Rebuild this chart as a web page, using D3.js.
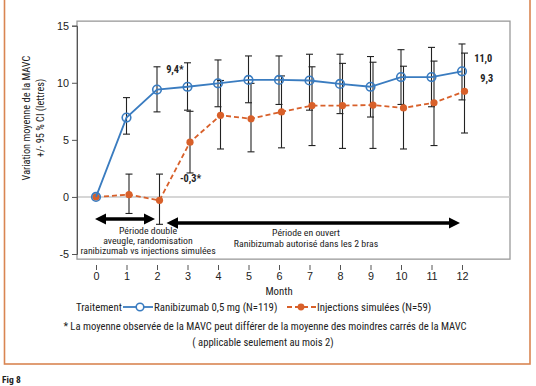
<!DOCTYPE html>
<html><head><meta charset="utf-8">
<script src="https://cdn.jsdelivr.net/npm/d3@7"></script>
<style>
html,body{margin:0;padding:0;background:#fff;}
svg{display:block;font-family:"Liberation Sans Narrow","Roboto Condensed","Liberation Sans",sans-serif;}
</style></head><body>
<svg id="c" width="536" height="386"></svg>
<script>
const months = [0,1,2,3,4,5,6,7,8,9,10,11,12];
const ranibizumab = [0,6.95,9.4,9.65,9.95,10.25,10.25,10.2,9.9,9.65,10.5,10.5,11.0];
const ranLow  = [0,5.5,7.45,7.6,7.9,8.25,8.1,7.6,7.3,7.0,8.1,7.9,8.5];
const ranHigh = [0,8.7,11.4,11.75,12.0,12.35,12.35,12.5,12.5,12.3,12.9,13.1,13.4];
const sham = [0,0.2,-0.3,4.8,7.15,6.85,7.45,8.0,8.0,8.05,7.8,8.25,9.25];
const shamLow  = [null,-1.45,-2.4,2.1,4.2,3.95,4.3,4.5,4.25,4.25,4.2,4.5,5.6];
const shamHigh = [null,2.0,2.0,7.5,10.2,9.95,10.6,11.4,11.7,11.8,11.45,11.9,12.6];
const yTicks = [-5,0,5,10,15];
const labels = ["Ranibizumab 0,5 mg (N=119)","Injections simulées (N=59)"];

const svg = d3.select("#c");
const blue = "#3a7cc0", orange = "#d8602a", bar = "#222";

// outer orange box
svg.append("rect").attr("x",4.5).attr("y",-5).attr("width",525.5).attr("height",369)
  .attr("fill","none").attr("stroke","#d98552").attr("stroke-width",1.6);

const x = d3.scaleLinear().domain([0,12]).range([96,462]);
const y = d3.scaleLinear().domain([-5,15]).range([254,25.7]);

// plot frame
svg.append("rect").attr("x",77).attr("y",y(15.4)).attr("width",433).attr("height",y(-5.45)-y(15.4))
  .attr("fill","none").attr("stroke","#9a9a9a").attr("stroke-width",1.3);
// zero line
svg.append("line").attr("x1",77).attr("x2",510).attr("y1",y(0)).attr("y2",y(0))
  .attr("stroke","#c8c8c8").attr("stroke-width",1.6);

// y axis
const ya = svg.append("g").attr("transform","translate(77,0)")
  .call(d3.axisLeft(y).tickValues(yTicks).tickSize(5).tickPadding(3).tickFormat(d=>String(d)));
ya.select(".domain").attr("stroke","#555");
ya.selectAll(".tick line").attr("stroke","#555");
ya.selectAll("text").attr("font-size",10.8).attr("fill","#222").attr("font-family","inherit");

// x axis
const xa = svg.append("g").attr("transform","translate(0,265)")
  .call(d3.axisBottom(x).tickValues(months).tickSize(5).tickPadding(2).tickFormat(d=>String(d)));
xa.select(".domain").remove();
xa.selectAll(".tick line").attr("stroke","#555");
xa.selectAll("text").attr("font-size",10.8).attr("fill","#222").attr("font-family","inherit");

svg.append("text").attr("x",x(6)).attr("y",295).attr("text-anchor","middle")
  .attr("font-size",10.8).attr("fill","#222").text("Month");

// y title
const yt = svg.append("text").attr("transform","translate(0,118) rotate(-90)")
  .attr("text-anchor","middle").attr("font-size",10.3).attr("fill","#222");
yt.append("tspan").attr("x",0).attr("y",30).text("Variation moyenne de la MAVC");
yt.append("tspan").attr("x",0).attr("y",44).text("+/- 95 % CI (lettres)");

// error bars
function errBars(lo, hi, dx){
  const g = svg.append("g").attr("stroke",bar).attr("stroke-width",1.1);
  months.forEach((m,i)=>{
    if(lo[i]===null || i===0) return;
    const cx = x(m)+dx;
    g.append("line").attr("x1",cx).attr("x2",cx).attr("y1",y(lo[i])).attr("y2",y(hi[i]));
    g.append("line").attr("x1",cx-3.5).attr("x2",cx+3.5).attr("y1",y(lo[i])).attr("y2",y(lo[i]));
    g.append("line").attr("x1",cx-3.5).attr("x2",cx+3.5).attr("y1",y(hi[i])).attr("y2",y(hi[i]));
  });
}
errBars(ranLow, ranHigh, 0);
errBars(shamLow, shamHigh, 2.5);

// sham line
const lineSham = d3.line().x((d,i)=>x(months[i])+2.5*(i>0)).y(d=>y(d));
svg.append("path").datum(sham).attr("d",lineSham).attr("fill","none")
  .attr("stroke",orange).attr("stroke-width",1.8).attr("stroke-dasharray","5,3");
svg.selectAll(".sd").data(sham).enter().append("circle")
  .attr("cx",(d,i)=>x(months[i])+2.5*(i>0)).attr("cy",d=>y(d)).attr("r",3.6).attr("fill",orange);

// ranibizumab line
const lineR = d3.line().x((d,i)=>x(months[i])).y(d=>y(d));
svg.append("path").datum(ranibizumab).attr("d",lineR).attr("fill","none")
  .attr("stroke",blue).attr("stroke-width",1.8);
svg.selectAll(".rd").data(ranibizumab).enter().append("circle")
  .attr("cx",(d,i)=>x(months[i])).attr("cy",d=>y(d)).attr("r",4.3)
  .attr("fill","none").attr("stroke",blue).attr("stroke-width",1.6);

// value annotations
const ann = [
  {t:"9,4*", m:2.3, v:10.9},
  {t:"-0,3*", m:2.75, v:1.3},
  {t:"11,0", m:12.4, v:11.85},
  {t:"9,3", m:12.6, v:10.1}
];
svg.selectAll(".ann").data(ann).enter().append("text")
  .attr("x",d=>x(d.m)).attr("y",d=>y(d.v)).attr("font-size",10.3).attr("font-weight","bold")
  .attr("fill","#222").text(d=>d.t);

// arrows
svg.append("defs").append("marker").attr("id","ah").attr("viewBox","0 0 10 10")
  .attr("refX",5).attr("refY",5).attr("markerWidth",3.2).attr("markerHeight",3.2)
  .attr("orient","auto-start-reverse").append("path").attr("d","M0,0L10,5L0,10z").attr("fill","#000");
function arrow(m1,m2,yy){
  svg.append("line").attr("x1",x(m1)).attr("x2",x(m2)).attr("y1",yy).attr("y2",yy)
    .attr("stroke","#000").attr("stroke-width",3.6)
    .attr("marker-start","url(#ah)").attr("marker-end","url(#ah)");
}
arrow(0.15,1.75,219);
arrow(2.5,11.75,223);

const t1 = svg.append("text").attr("text-anchor","middle").attr("font-size",9.8).attr("fill","#222");
[["Période double",234],["aveugle, randomisation",244],["ranibizumab vs injections simulées",254]]
  .forEach(([s,yy])=>t1.append("tspan").attr("x",148).attr("y",yy).text(s));
const t2 = svg.append("text").attr("text-anchor","middle").attr("font-size",9.8).attr("fill","#222");
[["Période en ouvert",236],["Ranibizumab autorisé dans les 2 bras",247]]
  .forEach(([s,yy])=>t2.append("tspan").attr("x",306).attr("y",yy).text(s));

// legend
svg.append("text").attr("x",76).attr("y",311).attr("font-size",10.8).attr("fill","#222").text("Traitement");
svg.append("line").attr("x1",123).attr("x2",153).attr("y1",307).attr("y2",307).attr("stroke",blue).attr("stroke-width",1.8);
svg.append("circle").attr("cx",140).attr("cy",307).attr("r",3.8).attr("fill","#fff").attr("stroke",blue).attr("stroke-width",1.6);
svg.append("text").attr("x",154).attr("y",311).attr("font-size",10.8).attr("fill","#222").text(labels[0]);
svg.append("line").attr("x1",287).attr("x2",316).attr("y1",307).attr("y2",307).attr("stroke",orange).attr("stroke-width",1.8).attr("stroke-dasharray","5,3");
svg.append("circle").attr("cx",301).attr("cy",307).attr("r",3.4).attr("fill",orange);
svg.append("text").attr("x",317).attr("y",311).attr("font-size",10.8).attr("fill","#222").text(labels[1]);

// footnote
svg.append("text").attr("x",265).attr("y",330).attr("text-anchor","middle").attr("font-size",10.6).attr("fill","#222")
  .text("* La moyenne observée de la MAVC peut différer de la moyenne des moindres carrés de la MAVC");
svg.append("text").attr("x",263).attr("y",346).attr("text-anchor","middle").attr("font-size",10.6).attr("fill","#222")
  .text("( applicable seulement au mois 2)");

svg.append("text").attr("x",2).attr("y",383).attr("font-size",9.5).attr("font-weight","bold").attr("fill","#222").text("Fig 8");
</script></body></html>
